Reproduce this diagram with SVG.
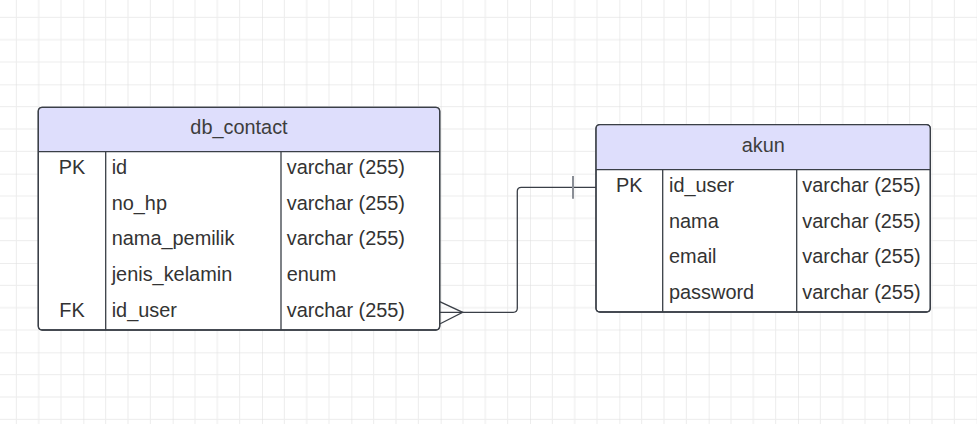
<svg xmlns="http://www.w3.org/2000/svg" width="977" height="424" viewBox="0 0 977 424">
  <defs>
    <!-- canvas grid: minor lines every 22.33px, major every 89.33px -->
    <pattern id="grid" patternUnits="userSpaceOnUse" x="-6" y="-5" width="89.333" height="89.333">
      <path d="M22.333 0V89.333M44.667 0V89.333M67 0V89.333M0 22.333H89.333M0 44.667H89.333M0 67H89.333" fill="none" stroke="#ececec" stroke-width="1"/>
      <path d="M0 0V89.333M0 0H89.333" fill="none" stroke="#dcdcdc" stroke-width="1"/>
    </pattern>
    <style>
      .frame { fill: #ffffff; stroke: #3a3f47; stroke-width: 1.3; }
      .head { fill: #dedefc; }
      .rule { stroke: #3a3f47; stroke-width: 1.3; fill: none; }
      text { font-family: "Liberation Sans", Arial, sans-serif; font-size: 19.9px; fill: #333333; }
      .title { text-anchor: middle; fill: #3d3d3d; }
      .key { text-anchor: middle; }
      .link { fill: none; stroke: #3a3f47; stroke-width: 1.3; }
      .bar { stroke: #8a8e96; stroke-width: 2; }
    </style>
  </defs>

  <rect x="0" y="0" width="977" height="424" fill="#ffffff"/>
  <rect x="0" y="0" width="977" height="424" fill="url(#grid)"/>

  <!-- relationship: many db_contact.id_user to one akun.id_user -->
  <g id="connectors">
    <path class="link" d="M439.7 312.3H513.3Q517.3 312.3 517.3 308.3V191.3Q517.3 187.3 521.3 187.3H596"/>
    <path class="link" d="M439.7 301.7L462.7 312.3L439.7 324"/>
    <line class="bar" x1="573" y1="176" x2="573" y2="198.7"/>
  </g>

  <!-- table db_contact -->
  <g id="db_contact">
    <rect class="frame" x="38.3" y="107.3" width="401.4" height="222.7" rx="4"/>
    <path class="head" d="M42.3 107.95H435.7Q439.05 107.95 439.05 111.3V151.7H38.95V111.3Q38.95 107.95 42.3 107.95Z"/>
    <path class="rule" d="M42.3 107.3H435.7Q439.7 107.3 439.7 111.3V326Q439.7 330 435.7 330H42.3Q38.3 330 38.3 326V111.3Q38.3 107.3 42.3 107.3Z"/>
    <path class="rule" d="M38.3 151.7H439.7M105.7 151.7V330M281 151.7V330"/>
    <text class="title" x="239" y="134">db_contact</text>
    <text class="key" x="72" y="174">PK</text>
    <text x="111.7" y="174">id</text>
    <text x="286.7" y="174">varchar (255)</text>
    <text x="111.7" y="209.7">no_hp</text>
    <text x="286.7" y="209.7">varchar (255)</text>
    <text x="111.7" y="245.3">nama_pemilik</text>
    <text x="286.7" y="245.3">varchar (255)</text>
    <text x="111.7" y="281">jenis_kelamin</text>
    <text x="286.7" y="281">enum</text>
    <text class="key" x="72" y="316.7">FK</text>
    <text x="111.7" y="316.7">id_user</text>
    <text x="286.7" y="316.7">varchar (255)</text>
  </g>

  <!-- table akun -->
  <g id="akun">
    <rect class="frame" x="596" y="124.7" width="334.3" height="187.3" rx="4"/>
    <path class="head" d="M600 125.35H926.3Q929.65 125.35 929.65 128.7V169.7H596.65V128.7Q596.65 125.35 600 125.35Z"/>
    <path class="rule" d="M600 124.7H926.3Q930.3 124.7 930.3 128.7V308Q930.3 312 926.3 312H600Q596 312 596 308V128.7Q596 124.7 600 124.7Z"/>
    <path class="rule" d="M596 169.7H930.3M662.7 169.7V312M796.7 169.7V312"/>
    <text class="title" x="763.2" y="152">akun</text>
    <text class="key" x="629.3" y="192">PK</text>
    <text x="669" y="192">id_user</text>
    <text x="802.3" y="192">varchar (255)</text>
    <text x="669" y="227.5">nama</text>
    <text x="802.3" y="227.5">varchar (255)</text>
    <text x="669" y="263.2">email</text>
    <text x="802.3" y="263.2">varchar (255)</text>
    <text x="669" y="298.8">password</text>
    <text x="802.3" y="298.8">varchar (255)</text>
  </g>
</svg>
